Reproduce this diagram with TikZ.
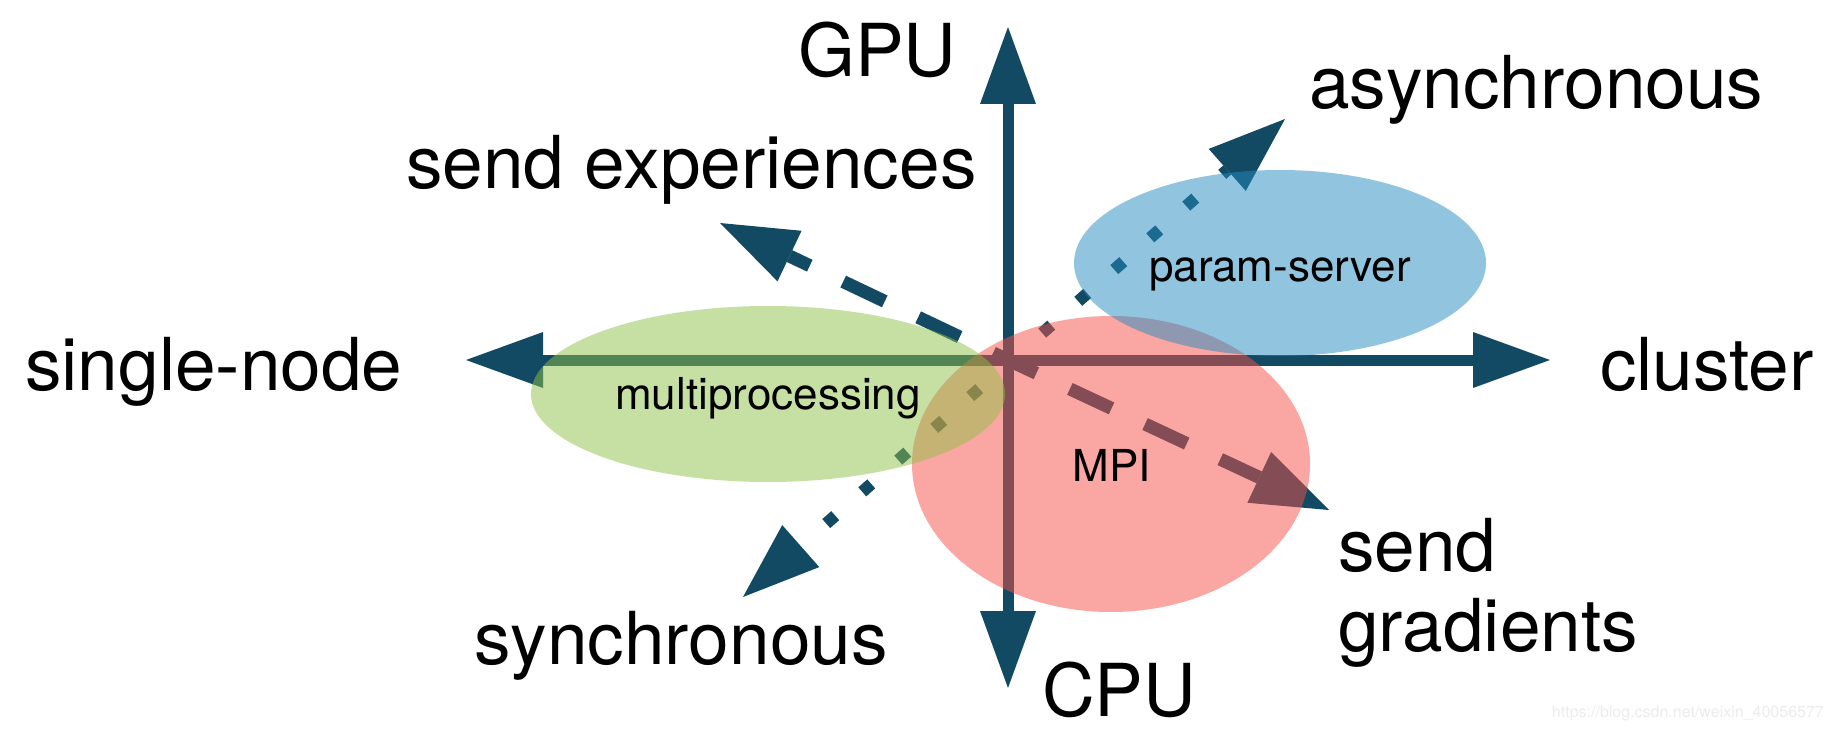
\documentclass[tikz,border=0pt]{standalone}
\usepackage{fontspec}
\setmainfont{TeX Gyre Heros}
\usetikzlibrary{arrows.meta,shapes.geometric}
\definecolor{axisblue}{RGB}{19,74,99}
\definecolor{ellgreen}{RGB}{143,192,70}
\definecolor{ellred}{RGB}{246,78,70}
\definecolor{ellblue}{RGB}{35,139,192}
\definecolor{wmgray}{RGB}{236,236,236}
\tikzset{
  bigtip/.tip={Triangle[length=77pt,width=56pt,line width=0pt]},
  axisline/.style={draw=axisblue, line width=11pt, bigtip-bigtip},
  dashline/.style={draw=axisblue, line width=13pt, line cap=butt, dash pattern=on 46pt off 37pt, -bigtip},
  dotline/.style={draw=axisblue, line width=12pt, line cap=butt, dash pattern=on 12pt off 36pt, dash phase=14pt, bigtip-bigtip},
  blob/.style={ellipse, inner sep=0pt, draw=none, fill opacity=0.5},
  biglabel/.style={inner sep=0pt, font=\fontsize{73}{80}\selectfont, text=black},
  smalllabel/.style={inner sep=0pt, font=\fontsize{44}{50}\selectfont, text=black},
}
\begin{document}
\begin{tikzpicture}[x=1pt,y=-1pt]
\useasboundingbox (0,0) rectangle (1834,730);
\fill[white] (0,0) rectangle (1834,730);
% key points
\coordinate (O) at (1008,360);
\coordinate (gpuTip) at (1008,27);
\coordinate (cpuTip) at (1008,688);
\coordinate (leftTip) at (466,360);
\coordinate (rightTip) at (1550,360);
\coordinate (expTip) at (720,223);
\coordinate (gradTip) at (1329,510);
\coordinate (syncTip) at (743,597);
\coordinate (asyncTip) at (1285,119);
% axes
\draw[axisline] (leftTip) -- (rightTip);
\draw[axisline] (cpuTip) -- (gpuTip);
% dashed arrows
\draw[dashline, dash phase=29.5pt] (O) -- (expTip);
\draw[dashline, dash phase=14.7pt] (O) -- (gradTip);
% dotted line
\draw[dotline] (syncTip) -- (asyncTip);
% ellipses
\node[blob, fill=ellred, minimum width=398pt, minimum height=296pt] (mpi) at (1111,464) {};
\node[blob, fill=ellgreen, minimum width=474pt, minimum height=176pt] (mp) at (768,394) {};
\node[blob, fill=ellblue, minimum width=412pt, minimum height=186pt] (ps) at (1280,263) {};
% small labels
\node[smalllabel, anchor=base] (mpLabel) at (768,409) {multiprocessing};
\node[smalllabel, anchor=base] (psLabel) at (1280,281) {param-server};
\node[smalllabel, anchor=base] (mpiLabel) at (1112,481) {MPI};
% big labels
\node[biglabel, anchor=base west] (gpu) at (798,77) {GPU};
\node[biglabel, anchor=base west] (cpu) at (1042,716) {CPU};
\node[biglabel, anchor=base west] (single) at (25,390) {single-node};
\node[biglabel, anchor=base west] (cluster) at (1600,390) {cluster};
\node[biglabel, anchor=base west] (sendexp) at (406,189) {send experiences};
\node[biglabel, anchor=base west] (async) at (1309,109) {asynchronous};
\node[biglabel, anchor=base west] (sync) at (474,664) {synchronous};
\node[biglabel, anchor=base west] (sendgrad1) at (1338,571) {send};
\node[biglabel, anchor=base west] (sendgrad2) at (1338,651) {gradients};
% watermark
\node[inner sep=0pt, anchor=base east, font=\fontsize{16}{18}\selectfont, text=wmgray] (wm) at (1824,717) {https://blog.csdn.net/weixin\_40056577};
\end{tikzpicture}
\end{document}
